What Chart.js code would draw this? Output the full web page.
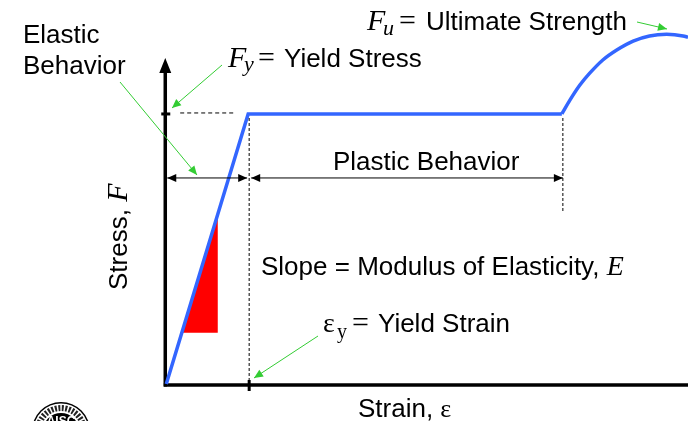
<!DOCTYPE html>
<html>
<head>
<meta charset="utf-8">
<script src="https://cdn.jsdelivr.net/npm/chart.js@4.4.0/dist/chart.umd.min.js"></script>
<style>
  body { margin: 0; background: #fff; }
  canvas { display: block; }
</style>
</head>
<body>
<canvas id="stressStrain" width="688" height="421"></canvas>
<script>
// strain in multiples of the yield strain, stress in multiples of Fy
const elasticPlasticStrain = [0, 1, 4.83];
const elasticPlasticStress = [0, 1, 1];
const hardeningStrain = [4.83, 4.93, 5.05, 5.17, 5.33, 5.5, 5.7, 5.9, 6.11, 6.31, 6.37];
const hardeningStress = [1, 1.052, 1.107, 1.151, 1.2, 1.237, 1.27, 1.289, 1.295, 1.289, 1.284];
const slopeStrain = [0.19, 0.63];
const slopeStress = [0.19, 0.63];
const yieldStrain = 1;
const yieldStress = 1;
const plasticEndStrain = 4.83;

const xMin = -2.03, xMax = 6.37;
const yMin = -0.137, yMax = 1.422;

const SANS = "'Liberation Sans', Arial, sans-serif";
const SERIF = "'Liberation Serif', 'Times New Roman', serif";
const GREEN = "#33cc33";

function toPoints(xs, ys) {
    return xs.map(function (x, i) { return { x: x, y: ys[i] }; });
}

function arrowHead(ctx, x1, y1, x2, y2, len, half, color) {
    const a = Math.atan2(y2 - y1, x2 - x1);
    ctx.save();
    ctx.fillStyle = color;
    ctx.beginPath();
    ctx.moveTo(x2, y2);
    ctx.lineTo(x2 - len * Math.cos(a) + half * Math.sin(a), y2 - len * Math.sin(a) - half * Math.cos(a));
    ctx.lineTo(x2 - len * Math.cos(a) - half * Math.sin(a), y2 - len * Math.sin(a) + half * Math.cos(a));
    ctx.closePath();
    ctx.fill();
    ctx.restore();
}

function line(ctx, x1, y1, x2, y2, width, color, dash) {
    ctx.save();
    ctx.strokeStyle = color;
    ctx.lineWidth = width;
    ctx.setLineDash(dash || []);
    ctx.beginPath();
    ctx.moveTo(x1, y1);
    ctx.lineTo(x2, y2);
    ctx.stroke();
    ctx.restore();
}

function arrow(ctx, x1, y1, x2, y2, color, both) {
    line(ctx, x1, y1, x2, y2, 1, color);
    arrowHead(ctx, x1, y1, x2, y2, 9, 4, color);
    if (both) arrowHead(ctx, x2, y2, x1, y1, 9, 4, color);
}

function text(ctx, str, x, y, font) {
    ctx.font = font;
    ctx.fillText(str, x, y);
    return x + ctx.measureText(str).width;
}

const axesPlugin = {
    id: "axes",
    beforeDatasetsDraw: function (chart) {
        const ctx = chart.ctx;
        const sx = chart.scales.x, sy = chart.scales.y;
        const ox = sx.getPixelForValue(0) - 1;
        const oy = sy.getPixelForValue(0) + 1;
        const top = sy.getPixelForValue(1.207);
        line(ctx, ox, oy + 1.5, ox, top + 12, 3.5, "#000");
        arrowHead(ctx, ox, oy, ox, top, 15, 6, "#000");
        line(ctx, ox - 1.5, oy, chart.width, oy, 3.5, "#000");
        // ticks at yield strain and yield stress
        const tx = sx.getPixelForValue(yieldStrain) + 1;
        line(ctx, tx, oy - 5, tx, oy + 6, 3, "#000");
        const ty = sy.getPixelForValue(yieldStress);
        line(ctx, ox - 4, ty, ox + 5, ty, 3, "#000");
    }
};

const notesPlugin = {
    id: "notes",
    afterDatasetsDraw: function (chart) {
        const ctx = chart.ctx;
        const sx = chart.scales.x, sy = chart.scales.y;
        const yx = sx.getPixelForValue(yieldStrain) + 1;
        const px = sx.getPixelForValue(plasticEndStrain) + 1;
        const fy = sy.getPixelForValue(yieldStress) - 1;
        const ox = sx.getPixelForValue(0);

        // dashed guides
        line(ctx, sx.getPixelForValue(0.17), fy, sx.getPixelForValue(0.82), fy, 1, "#000", [4, 3]);
        line(ctx, yx, sy.getPixelForValue(0.985), yx, sy.getPixelForValue(0.015), 1, "#000", [3, 2]);
        line(ctx, px, sy.getPixelForValue(0.985), px, sy.getPixelForValue(0.635), 1, "#000", [3, 2]);

        // elastic / plastic ranges
        const dy = sy.getPixelForValue(0.763);
        arrow(ctx, ox + 1, dy, yx - 2, dy, "#000", true);
        arrow(ctx, yx + 2, dy, px, dy, "#000", true);

        // green leaders
        arrow(ctx, 120, 82, 197, 175, GREEN, false);
        arrow(ctx, 222, 65, 172, 108, GREEN, false);
        arrow(ctx, 318, 336, 254, 378, GREEN, false);
        arrow(ctx, 637, 22, 667, 29, GREEN, false);

        ctx.save();
        ctx.fillStyle = "#000";
        ctx.textBaseline = "alphabetic";
        const sans = "26px " + SANS;

        text(ctx, "Elastic", 23, 43, sans);
        text(ctx, "Behavior", 23, 74, sans);

        text(ctx, "F", 228, 67, "italic 30px " + SERIF);
        text(ctx, "y", 244, 71, "italic 22px " + SERIF);
        text(ctx, "=", 258, 67, "30px " + SERIF);
        text(ctx, "Yield Stress", 284, 67, sans);

        text(ctx, "F", 367, 30, "italic 30px " + SERIF);
        text(ctx, "u", 383, 35, "italic 22px " + SERIF);
        text(ctx, "=", 399, 30, "30px " + SERIF);
        text(ctx, "Ultimate Strength", 426, 30, sans);

        text(ctx, "Plastic Behavior", 333, 170, sans);

        const e = text(ctx, "Slope = Modulus of Elasticity, ", 261, 275, sans);
        text(ctx, "E", e, 275, "italic 28px " + SERIF);

        text(ctx, "\u03b5", 323, 332, "28px " + SERIF);
        text(ctx, "y", 337, 338, "20px " + SERIF);
        text(ctx, "=", 352, 332, "30px " + SERIF);
        text(ctx, "Yield Strain", 378, 332, sans);

        const s = text(ctx, "Strain, ", 358, 417, sans);
        text(ctx, "\u03b5", s, 417, "26px " + SERIF);

        ctx.translate(127, 290);
        ctx.rotate(-Math.PI / 2);
        const f = text(ctx, "Stress, ", 0, 0, sans);
        text(ctx, "F", f, 0, "italic 30px " + SERIF);
        ctx.restore();

        // seal in the corner
        ctx.save();
        ctx.fillStyle = "#000";
        ctx.beginPath(); ctx.arc(61, 431, 29, 0, Math.PI * 2); ctx.fill();
        ctx.fillStyle = "#fff";
        ctx.beginPath(); ctx.arc(61, 431, 27.5, 0, Math.PI * 2); ctx.fill();
        ctx.strokeStyle = "#222";
        ctx.lineWidth = 6;
        ctx.setLineDash([2, 1.5]);
        ctx.beginPath(); ctx.arc(61, 431, 23, 0, Math.PI * 2); ctx.stroke();
        ctx.setLineDash([]);
        ctx.fillStyle = "#000";
        ctx.beginPath(); ctx.arc(61, 431, 18, 0, Math.PI * 2); ctx.fill();
        ctx.fillStyle = "#fff";
        ctx.font = "bold 12px " + SANS;
        ctx.textAlign = "center";
        ctx.fillText("AISC", 61, 425);
        ctx.restore();
    }
};

const ctx = document.getElementById("stressStrain").getContext("2d");
new Chart(ctx, {
    type: "scatter",
    data: {
        datasets: [{
            label: "Elastic-plastic",
            data: toPoints(elasticPlasticStrain, elasticPlasticStress),
            showLine: true,
            borderColor: "#3366ff",
            borderWidth: 3.5,
            borderJoinStyle: "miter",
            pointRadius: 0,
            tension: 0
        }, {
            label: "Strain hardening",
            data: toPoints(hardeningStrain, hardeningStress),
            showLine: true,
            borderColor: "#3366ff",
            borderWidth: 3.5,
            pointRadius: 0,
            cubicInterpolationMode: "monotone"
        }, {
            label: "Slope",
            data: toPoints(slopeStrain, slopeStress),
            showLine: true,
            borderWidth: 0,
            borderColor: "rgba(0,0,0,0)",
            backgroundColor: "#ff0000",
            pointRadius: 0,
            fill: { target: { value: slopeStress[0] } }
        }]
    },
    options: {
        responsive: false,
        animation: false,
        devicePixelRatio: 1,
        events: [],
        layout: { padding: 0 },
        plugins: {
            legend: { display: false },
            tooltip: { enabled: false }
        },
        scales: {
            x: { type: "linear", display: false, min: xMin, max: xMax },
            y: { type: "linear", display: false, min: yMin, max: yMax }
        }
    },
    plugins: [axesPlugin, notesPlugin]
});
</script>
</body>
</html>
